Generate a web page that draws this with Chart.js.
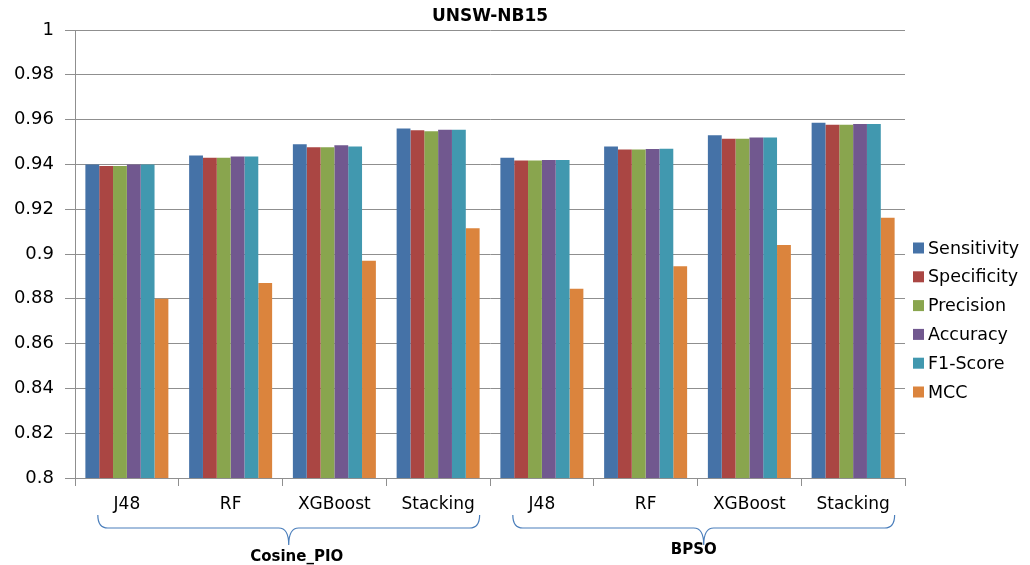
<!DOCTYPE html>
<html>
<head>
<meta charset="utf-8">
<title>UNSW-NB15</title>
<script src="https://cdn.jsdelivr.net/npm/chart.js@4.4.1/dist/chart.umd.min.js"></script>
<style>
  html, body { margin: 0; padding: 0; background: #ffffff; }
  #wrap { width: 1030px; height: 565px; position: relative; }
</style>
</head>
<body>
<div id="wrap"><canvas id="chart" width="1030" height="565"></canvas></div>
<script>
// Classifiers under each feature-selection method
const categories = ['J48', 'RF', 'XGBoost', 'Stacking', 'J48', 'RF', 'XGBoost', 'Stacking'];

// Feature-selection groups (index ranges into categories)
const groupNames = ['Cosine_PIO', 'BPSO'];
const groupStarts = [0, 4];
const groupEnds = [3, 7];

// Metric values per classifier
const sensitivity = [0.940, 0.944, 0.949, 0.956, 0.943, 0.948, 0.953, 0.9586];
const specificity = [0.9393, 0.943, 0.9477, 0.9552, 0.9417, 0.9466, 0.9515, 0.9577];
const precision   = [0.9393, 0.943, 0.9477, 0.9548, 0.9417, 0.9466, 0.9515, 0.9577];
const accuracy    = [0.940, 0.9435, 0.9485, 0.9555, 0.942, 0.9469, 0.952, 0.958];
const f1Score     = [0.940, 0.9435, 0.948, 0.9555, 0.942, 0.947, 0.952, 0.958];
const mcc         = [0.880, 0.887, 0.897, 0.9115, 0.8845, 0.8945, 0.904, 0.9162];

const seriesNames = ['Sensitivity', 'Specificity', 'Precision', 'Accuracy', 'F1-Score', 'MCC'];
const seriesValues = [sensitivity, specificity, precision, accuracy, f1Score, mcc];
const seriesColors = ['#4572A7', '#AA4643', '#89A54E', '#71588F', '#4198AF', '#DB843D'];

const yMin = 0.8, yMax = 1, yStep = 0.02;

const FONT = "'DejaVu Sans', Verdana, sans-serif";
const AXIS_GRAY = '#8f8f8f';

// Side legend drawn next to the plot area
const sideLegend = {
  id: 'sideLegend',
  afterDraw(chart) {
    const ctx = chart.ctx;
    const x = chart.chartArea.right + 8;
    const yStart = 248, gap = 28.8, box = 11;
    ctx.save();
    ctx.font = '17.5px ' + FONT;
    ctx.textBaseline = 'middle';
    ctx.textAlign = 'left';
    chart.data.datasets.forEach((ds, i) => {
      const y = yStart + i * gap;
      ctx.fillStyle = ds.backgroundColor;
      ctx.fillRect(x, y - box / 2, box, box);
      ctx.fillStyle = '#000000';
      ctx.fillText(ds.label, x + box + 4, y + 1);
    });
    ctx.restore();
  }
};

// Curly braces under the category labels, with group names
const groupBraces = {
  id: 'groupBraces',
  afterDraw(chart) {
    const ctx = chart.ctx;
    const xs = chart.scales.x;
    const w = (xs.right - xs.left) / categories.length;
    const top = 515, mid = 528, tip = 545, r = 10;
    ctx.save();
    ctx.strokeStyle = '#4a7ebb';
    ctx.lineWidth = 1.2;
    groupNames.forEach((name, g) => {
      const xl = xs.getPixelForValue(groupStarts[g]) - 0.28 * w;
      const xr = xs.getPixelForValue(groupEnds[g]) + 0.40 * w;
      const xm = (xl + xr) / 2;
      ctx.beginPath();
      ctx.moveTo(xl, top);
      ctx.quadraticCurveTo(xl, mid, xl + r, mid);
      ctx.lineTo(xm - r, mid);
      ctx.quadraticCurveTo(xm, mid, xm, tip);
      ctx.quadraticCurveTo(xm, mid, xm + r, mid);
      ctx.lineTo(xr - r, mid);
      ctx.quadraticCurveTo(xr, mid, xr, top);
      ctx.stroke();
      ctx.fillStyle = '#000000';
      ctx.font = 'bold 15px ' + FONT;
      ctx.textAlign = 'center';
      ctx.textBaseline = 'middle';
      ctx.fillText(name, xm + (g === 0 ? 8 : -10), g === 0 ? 557 : 550);
    });
    ctx.restore();
  }
};

new Chart(document.getElementById('chart'), {
  type: 'bar',
  data: {
    labels: categories,
    datasets: seriesNames.map((name, i) => ({
      label: name,
      data: seriesValues[i],
      backgroundColor: seriesColors[i],
      borderWidth: 0,
      barPercentage: 1,
      categoryPercentage: 0.8
    }))
  },
  options: {
    responsive: false,
    animation: false,
    layout: { padding: { left: 0, right: 125, top: 0, bottom: 0 } },
    plugins: {
      legend: { display: false },
      tooltip: { enabled: false },
      title: {
        display: true,
        text: 'UNSW-NB15',
        fullSize: false,
        color: '#000000',
        font: { family: FONT, size: 17, weight: 'bold', lineHeight: 1.2 },
        padding: { top: 6, bottom: 3.6 }
      }
    },
    scales: {
      x: {
        afterFit(s) { s.height = 87; },
        grid: {
          offset: true,
          drawOnChartArea: false,
          drawTicks: true,
          tickLength: 8,
          color: AXIS_GRAY
        },
        border: { display: true, color: AXIS_GRAY, width: 1 },
        ticks: {
          color: '#000000',
          font: { family: FONT, size: 17 },
          padding: 8,
          maxRotation: 0,
          autoSkip: false
        }
      },
      y: {
        min: yMin,
        max: yMax,
        afterFit(s) { s.width = 75; },
        grid: {
          color: AXIS_GRAY,
          drawTicks: true,
          tickLength: 10
        },
        border: { display: true, color: AXIS_GRAY, width: 1 },
        ticks: {
          stepSize: yStep,
          color: '#000000',
          font: { family: FONT, size: 18 },
          padding: 11,
          callback: v => String(+Number(v).toFixed(2))
        }
      }
    }
  },
  plugins: [sideLegend, groupBraces]
});
</script>
</body>
</html>
